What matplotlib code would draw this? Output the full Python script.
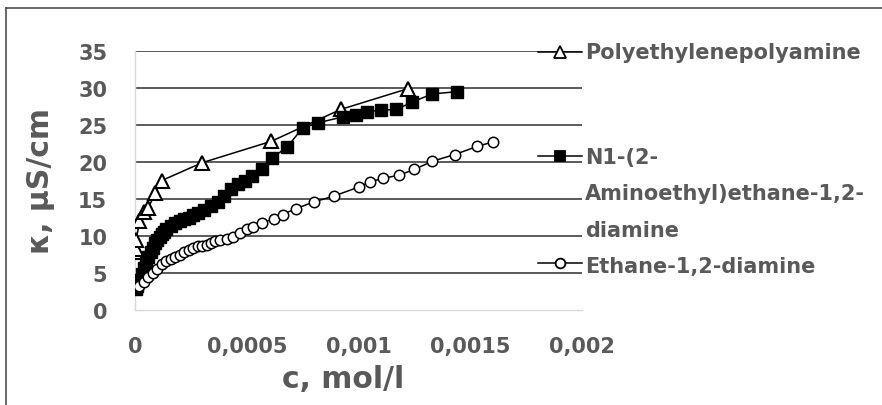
import matplotlib
matplotlib.use("Agg")
import matplotlib.pyplot as plt
from matplotlib.lines import Line2D

# Conductivity data: concentration c (mol/l) and specific conductivity kappa (uS/cm)
pepa_c = [0.000003, 0.000003, 0.000005, 0.00002, 0.00004, 0.00006, 0.00009,
          0.00012, 0.0003, 0.00061, 0.00092, 0.00122]
pepa_k = [7.9, 8.2, 9.4, 12.0, 13.2, 13.8, 15.8, 17.5, 19.9, 22.8, 27.1, 29.9]

deta_c = [0.000005, 0.00001, 0.00002, 0.00003, 0.00004, 0.00005, 0.00006,
          0.00007, 0.00008, 0.00009, 0.0001, 0.00011, 0.00012, 0.00013,
          0.00014, 0.00016, 0.00018, 0.0002, 0.00022, 0.00024, 0.00026,
          0.00028, 0.00031, 0.00034, 0.00037, 0.0004, 0.00043, 0.00046,
          0.00049, 0.000525, 0.00057, 0.000615, 0.00068, 0.00075, 0.00082,
          0.00093, 0.00099, 0.00104, 0.0011, 0.00117, 0.00124, 0.00133,
          0.00144]
deta_k = [2.8, 3.2, 4.0, 4.9, 5.7, 6.4, 7.1, 7.8, 8.4, 9.0, 9.5, 9.9, 10.3,
          10.6, 10.9, 11.3, 11.7, 12.0, 12.3, 12.5, 12.8, 13.1, 13.5, 14.0,
          14.6, 15.4, 16.3, 17.0, 17.4, 18.1, 19.1, 20.6, 22.0, 24.6, 25.3,
          26.1, 26.3, 26.8, 27.0, 27.1, 28.1, 29.2, 29.5]

eda_c = [0.00002, 0.00004, 0.00006, 0.00008, 0.0001, 0.00012, 0.00014,
         0.00016, 0.00018, 0.0002, 0.00022, 0.00024, 0.00026, 0.00028,
         0.0003, 0.00032, 0.00034, 0.00036, 0.00038, 0.00041, 0.00044,
         0.00047, 0.0005, 0.00053, 0.00057, 0.00062, 0.00066, 0.00072,
         0.0008, 0.00089, 0.001, 0.00105, 0.00111, 0.00118, 0.00125,
         0.00133, 0.00143, 0.00153, 0.0016]
eda_k = [3.3, 3.8, 4.4, 5.0, 5.6, 6.2, 6.6, 6.9, 7.2, 7.5, 7.8, 8.1, 8.4,
         8.6, 8.7, 8.8, 9.0, 9.3, 9.5, 9.6, 9.9, 10.4, 10.9, 11.2, 11.8,
         12.3, 12.9, 13.7, 14.6, 15.4, 16.6, 17.3, 17.8, 18.2, 19.0, 20.1,
         21.0, 22.1, 22.7]

y_ticks = [0, 5, 10, 15, 20, 25, 30, 35]
x_ticks = [0, 0.0005, 0.001, 0.0015, 0.002]
x_tick_labels = ["0", "0,0005", "0,001", "0,0015", "0,002"]

legend_pepa = "Polyethylenepolyamine"
legend_deta = ["N1-(2-", "Aminoethyl)ethane-1,2-", "diamine"]
legend_eda = "Ethane-1,2-diamine"

TEXT = "#595959"
W, H = 882, 406
plt.rcParams["font.family"] = ["DejaVu Sans"]

fig = plt.figure(figsize=(W / 100, H / 100), dpi=100)
fig.patch.set_facecolor("white")


def fx(px):
    return px / W


def fy(py):
    return 1 - py / H


ax = fig.add_axes([fx(135), fy(311), fx(582) - fx(135), fy(52) - fy(311)])

ax.plot(pepa_c, pepa_k, color="black", lw=1.1, marker="^", ms=10,
        mfc="white", mec="black", mew=1.5, zorder=3)
ax.plot(deta_c, deta_k, color="black", lw=1.1, marker="s", ms=8,
        mfc="black", mec="black", mew=1.0, zorder=4)
ax.plot(eda_c, eda_k, color="black", lw=1.1, marker="o", ms=7.5,
        mfc="white", mec="black", mew=1.1, zorder=5)

ax.set_xlim(0, 0.002)
ax.set_ylim(0, 35)
ax.set_yticks(y_ticks)
ax.set_xticks(x_ticks)
ax.set_xticklabels(x_tick_labels)
ax.tick_params(axis="both", length=0, labelsize=15, labelcolor=TEXT)
ax.tick_params(axis="y", pad=20)
ax.tick_params(axis="x", pad=19)
for lab in ax.get_xticklabels() + ax.get_yticklabels():
    lab.set_fontweight("bold")

ax.yaxis.grid(True, color="#2e2e2e", lw=1.1)
ax.xaxis.grid(False)
ax.set_axisbelow(True)
ax.get_ygridlines()[0].set_visible(False)

for side in ("top", "right"):
    ax.spines[side].set_visible(False)
for side in ("left", "bottom"):
    ax.spines[side].set_color("#d9d9d9")
    ax.spines[side].set_linewidth(1.0)

# Axis titles
fig.text(fx(41), fy(181), "κ, µS/cm", rotation=90, ha="center", va="center",
         fontsize=21.5, fontweight="bold", color=TEXT)
fig.text(fx(343), fy(388), "c, mol/l", ha="center", va="baseline",
         fontsize=21.5, fontweight="bold", color=TEXT)


# Legend entries drawn on the right-hand side
def legend_handle(py, marker, mfc, ms):
    fig.add_artist(Line2D([fx(538), fx(582)], [fy(py), fy(py)],
                          transform=fig.transFigure, color="black", lw=1.1))
    fig.add_artist(Line2D([fx(560)], [fy(py)], transform=fig.transFigure,
                          marker=marker, ms=ms, mfc=mfc, mec="black",
                          mew=1.3, ls="none"))


legend_handle(53, "^", "white", 8)
fig.text(fx(585), fy(59), legend_pepa, ha="left", va="baseline",
         fontsize=15, fontweight="bold", color=TEXT)

legend_handle(157, "s", "black", 7)
for line, base in zip(legend_deta, [164, 200, 237]):
    fig.text(fx(585), fy(base), line, ha="left", va="baseline",
             fontsize=15, fontweight="bold", color=TEXT)

legend_handle(264, "o", "white", 7)
fig.text(fx(585), fy(273), legend_eda, ha="left", va="baseline",
         fontsize=15, fontweight="bold", color=TEXT)

# Frame lines along the top and left edges
fig.add_artist(Line2D([fx(6), 1], [fy(9), fy(9)], transform=fig.transFigure,
                      color="#404040", lw=1.1))
fig.add_artist(Line2D([fx(6), fx(6)], [fy(9), 0], transform=fig.transFigure,
                      color="#404040", lw=1.1))

fig.savefig("out.png", dpi=100, facecolor="white")
